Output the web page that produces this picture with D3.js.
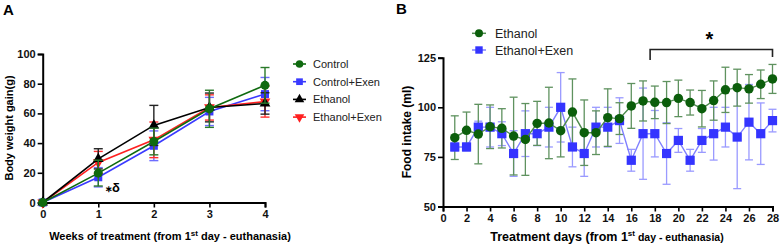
<!DOCTYPE html>
<html><head><meta charset="utf-8">
<script src="https://cdn.jsdelivr.net/npm/d3@7"></script>
<style>
body{margin:0;background:#fff;}
svg{display:block;font-family:"Liberation Sans",Arial,sans-serif;}
.tick text{font-weight:bold;font-size:11px;fill:#111;}
</style></head><body>
<svg id="c" width="780" height="249"></svg>
<script>
// ---------- Panel A data ----------
const weeks = [0, 1, 2, 3, 4];
const controlMean = [0, 19.8, 41.1, 63.1, 78.9];
const controlErr = [0, 8.7, 9, 12.5, 12];
const controlExenMean = [0, 17, 38.2, 61.3, 73];
const controlExenErr = [0, 6.5, 10, 9.5, 11.2];
const ethanolAMean = [0, 29.4, 51.9, 64, 66.7];
const ethanolAErr = [0, 6.8, 13.5, 9.7, 7.2];
const ethanolExenAMean = [0, 27, 42.2, 64, 67.9];
const ethanolExenAErr = [0, 7.4, 12, 8.5, 10.4];
const yTicksA = [0, 20, 40, 60, 80, 100];
const xTicksA = [0, 1, 2, 3, 4];

// ---------- Panel B data ----------
const days = [1,2,3,4,5,6,7,8,9,10,11,12,13,14,15,16,17,18,19,20,21,22,23,24,25,26,27,28];
const ethanolBMean = [84.7,88.4,86.5,90.2,89.4,85.5,83.8,91.9,92.1,88.2,97.6,87.2,87.2,94.8,94.3,100.7,103.2,102.5,102.4,104.5,102.4,99.3,103.4,108.8,109.9,109.3,111.6,114.3];
const ethanolBErr = [11,9.2,15,11,9.9,19.6,18.1,11.1,18,13.2,16.7,16.5,11,14.5,8,11.3,10.1,8.2,10.6,9.2,6.3,9.2,9.9,11.4,9.3,7.2,7.2,7.3];
const ethanolExenBMean = [80,80,90,90,86.7,76.7,86.7,86.7,90,100,80,76.7,90,90,93.3,73.3,86.7,86.7,76.7,83.3,73.3,83.3,86.7,90,85,92.5,86.7,93.3];
const ethanolExenBErr = [2,2,3,10,6,11.5,11.5,6,10,17.5,10,11.5,10,10,11.5,5.5,23,11.7,15.5,6,5.5,6,13.3,10,26,19,15.5,5.7];
const yTicksB = [50, 75, 100, 125];
const xTicksB = [0,2,4,6,8,10,12,14,16,18,20,22,24,26,28];
const bracketDays = [17.6, 28];

const svg = d3.select("#c");

function styleAxis(g){
  g.select(".domain").attr("stroke","#000").attr("stroke-width",2);
  g.selectAll(".tick line").attr("stroke","#000").attr("stroke-width",1.6);
}

function symbolPath(type, size){
  return d3.symbol().type(type).size(size)();
}
const triDown = {draw(ctx, size){ const s=Math.sqrt(size/ (Math.sqrt(3)/4)); const h=s*Math.sqrt(3)/2; ctx.moveTo(-s/2,-h/3); ctx.lineTo(s/2,-h/3); ctx.lineTo(0,2*h/3); ctx.closePath(); }};
const triUp = {draw(ctx, size){ const s=Math.sqrt(size/ (Math.sqrt(3)/4)); const h=s*Math.sqrt(3)/2; ctx.moveTo(-s/2,h/3); ctx.lineTo(s/2,h/3); ctx.lineTo(0,-2*h/3); ctx.closePath(); }};

// ================= Panel A =================
const xA = d3.scaleLinear().domain([0,4]).range([42.7, 265]);
const yA = d3.scaleLinear().domain([0,100]).range([202.5, 54]);

const gA = svg.append("g");
gA.append("g").attr("transform","translate(0,202.5)")
  .call(d3.axisBottom(xA).tickValues(xTicksA).tickFormat(d3.format("d")).tickSize(5).tickPadding(3))
  .call(styleAxis);
gA.append("g").attr("transform","translate(42.7,0)")
  .call(d3.axisLeft(yA).tickValues(yTicksA).tickSize(5).tickPadding(2))
  .call(styleAxis);

const seriesA = [
  {name:"Control+Exen", mean:controlExenMean, err:controlExenErr, color:"#3a3aff", err_c:"#6d6dff", sym:d3.symbolSquare, size:64},
  {name:"Ethanol+Exen", mean:ethanolExenAMean, err:ethanolExenAErr, color:"#ff2020", err_c:"#ff3030", sym:triDown, size:50},
  {name:"Ethanol", mean:ethanolAMean, err:ethanolAErr, color:"#000000", err_c:"#222", sym:triUp, size:50},
  {name:"Control", mean:controlMean, err:controlErr, color:"#0f6a0f", err_c:"#2a7a2a", sym:d3.symbolCircle, size:64}
];
const lineA = d3.line().x((d,i)=>xA(weeks[i])).y(d=>yA(d));
seriesA.forEach(s=>{
  const g = gA.append("g");
  weeks.forEach((w,i)=>{
    if(!s.err[i]) return;
    const x = xA(w), y1 = yA(s.mean[i]+s.err[i]), y2 = yA(s.mean[i]-s.err[i]);
    g.append("line").attr("x1",x).attr("x2",x).attr("y1",y1).attr("y2",y2).attr("stroke",s.err_c).attr("stroke-width",1.4);
    [y1,y2].forEach(yy=>g.append("line").attr("x1",x-4.5).attr("x2",x+4.5).attr("y1",yy).attr("y2",yy).attr("stroke",s.err_c).attr("stroke-width",1.4));
  });
  g.append("path").attr("d",lineA(s.mean)).attr("fill","none").attr("stroke",s.color).attr("stroke-width",1.6);
  weeks.forEach((w,i)=>{
    g.append("path").attr("d",symbolPath(s.sym,s.size)).attr("transform",`translate(${xA(w)},${yA(s.mean[i])})`).attr("fill",s.color);
  });
});

// annotation
gA.append("text").attr("x",105).attr("y",192).attr("font-size",9).attr("font-weight","bold").text("∗");
gA.append("text").attr("x",112).attr("y",192).attr("font-size",13).attr("font-weight","bold").text("δ");

// legend A
const legA = [
  {name:"Control", color:"#0f6a0f", sym:d3.symbolCircle, size:45},
  {name:"Control+Exen", color:"#3a3aff", sym:d3.symbolSquare, size:45},
  {name:"Ethanol", color:"#000", sym:triUp, size:40},
  {name:"Ethanol+Exen", color:"#ff2020", sym:triDown, size:40}
];
legA.forEach((l,i)=>{
  const y = 64 + i*17.7;
  gA.append("line").attr("x1",293).attr("x2",306).attr("y1",y).attr("y2",y).attr("stroke",l.color).attr("stroke-width",1.6);
  gA.append("path").attr("d",symbolPath(l.sym,l.size)).attr("transform",`translate(299.5,${y})`).attr("fill",l.color);
  gA.append("text").attr("x",313).attr("y",y+4).attr("font-size",11).attr("fill","#222").text(l.name);
});

// labels A
gA.append("text").attr("x",3).attr("y",15).attr("font-size",15).attr("font-weight","bold").text("A");
gA.append("text").attr("transform","translate(13,128) rotate(-90)").attr("text-anchor","middle")
  .attr("font-size",11).attr("font-weight","bold").text("Body weight gain(g)");
const xlA = gA.append("text").attr("x",170).attr("y",240).attr("text-anchor","middle").attr("font-size",11).attr("font-weight","bold");
xlA.append("tspan").text("Weeks of treatment (from 1");
xlA.append("tspan").attr("dy",-4).attr("font-size",8).text("st");
xlA.append("tspan").attr("dy",4).text(" day - euthanasia)");

// ================= Panel B =================
const xB = d3.scaleLinear().domain([0,28]).range([443, 772.5]);
const yB = d3.scaleLinear().domain([50,125]).range([206.5, 57.7]);
const gB = svg.append("g");
gB.append("g").attr("transform","translate(0,206.5)")
  .call(d3.axisBottom(xB).tickValues(xTicksB).tickSize(5).tickPadding(3))
  .call(styleAxis);
gB.append("g").attr("transform","translate(443,0)")
  .call(d3.axisLeft(yB).tickValues(yTicksB).tickSize(5).tickPadding(2))
  .call(styleAxis);

const seriesB = [
  {name:"Ethanol+Exen", mean:ethanolExenBMean, err:ethanolExenBErr, color:"#3434ff", line:"#8080ff", err_c:"#9a9aff", sym:d3.symbolSquare, size:85},
  {name:"Ethanol", mean:ethanolBMean, err:ethanolBErr, color:"#0b5e0b", line:"#4e8a4e", err_c:"#5f925f", sym:d3.symbolCircle, size:70}
];
const lineB = d3.line().x((d,i)=>xB(days[i])).y(d=>yB(d));
seriesB.forEach(s=>{
  const g = gB.append("g");
  days.forEach((dd,i)=>{
    const x = xB(dd), y1 = yB(s.mean[i]+s.err[i]), y2 = yB(s.mean[i]-s.err[i]);
    g.append("line").attr("x1",x).attr("x2",x).attr("y1",y1).attr("y2",y2).attr("stroke",s.err_c).attr("stroke-width",1.3);
    [y1,y2].forEach(yy=>g.append("line").attr("x1",x-4).attr("x2",x+4).attr("y1",yy).attr("y2",yy).attr("stroke",s.err_c).attr("stroke-width",1.3));
  });
});
seriesB.forEach(s=>{
  const g = gB.append("g");
  g.append("path").attr("d",lineB(s.mean)).attr("fill","none").attr("stroke",s.line).attr("stroke-width",1.4);
  days.forEach((dd,i)=>{
    g.append("path").attr("d",symbolPath(s.sym,s.size)).attr("transform",`translate(${xB(dd)},${yB(s.mean[i])})`).attr("fill",s.color);
  });
});

// bracket and star
const bx1 = xB(bracketDays[0]), bx2 = xB(bracketDays[1]);
gB.append("path").attr("d",`M${bx1},60 V49.5 H${bx2} V57`).attr("fill","none").attr("stroke","#222").attr("stroke-width",1.6);
gB.append("text").attr("x",(bx1+bx2)/2 - 2).attr("y",46).attr("text-anchor","middle").attr("font-size",20).attr("font-weight","bold").text("*");

// legend B
const legB = [
  {name:"Ethanol", color:"#0b5e0b", line:"#4e8a4e", sym:d3.symbolCircle, size:50},
  {name:"Ethanol+Exen", color:"#3434ff", line:"#8080ff", sym:d3.symbolSquare, size:55}
];
legB.forEach((l,i)=>{
  const y = 33.3 + i*16.7;
  gB.append("line").attr("x1",472).attr("x2",486).attr("y1",y).attr("y2",y).attr("stroke",l.line).attr("stroke-width",1.5);
  gB.append("path").attr("d",symbolPath(l.sym,l.size)).attr("transform",`translate(479,${y})`).attr("fill",l.color);
  gB.append("text").attr("x",495).attr("y",y+4.5).attr("font-size",12.5).attr("fill","#222").text(l.name);
});

gB.append("text").attr("x",396).attr("y",14).attr("font-size",15).attr("font-weight","bold").text("B");
gB.append("text").attr("transform","translate(411,132) rotate(-90)").attr("text-anchor","middle")
  .attr("font-size",12).attr("font-weight","bold").text("Food intake (ml)");
const xlB = gB.append("text").attr("x",607).attr("y",241).attr("text-anchor","middle").attr("font-weight","bold");
xlB.append("tspan").attr("font-size",12.5).text("Treatment days (from 1");
xlB.append("tspan").attr("dy",-5).attr("font-size",8).text("st");
xlB.append("tspan").attr("dy",5).attr("font-size",10.5).text(" day - euthanasia)");
</script>
</body></html>
